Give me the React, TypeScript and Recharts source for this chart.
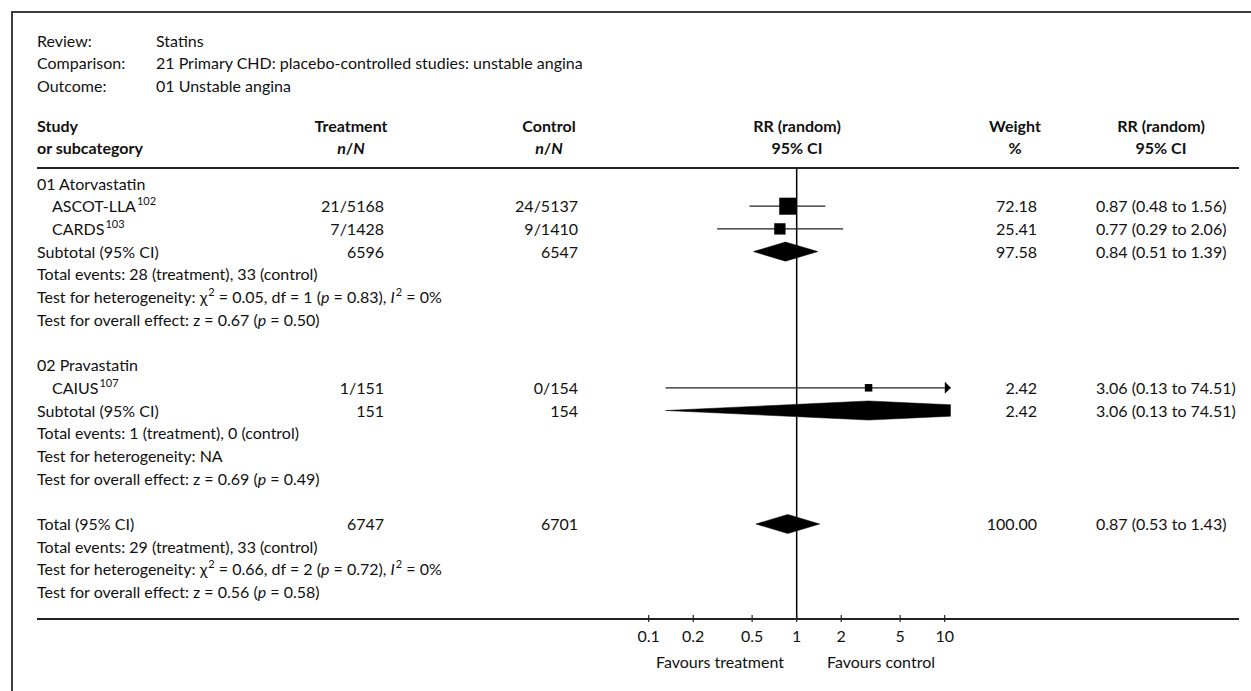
import React from 'react';
import { ScatterChart, Scatter, ErrorBar, XAxis, YAxis, ReferenceLine } from 'recharts';

// review header
const headerLabels = ['Review:', 'Comparison:', 'Outcome:'];
const headerValues = ['Statins', '21 Primary CHD: placebo-controlled studies: unstable angina', '01 Unstable angina'];

// studies
const studyNames = ['ASCOT-LLA', 'CARDS', 'CAIUS'];
const studyRefs = ['102', '103', '107'];
const studyGroup = [0, 0, 1];
const studyTreatment = ['21/5168', '7/1428', '1/151'];
const studyControl = ['24/5137', '9/1410', '0/154'];
const studyWeight = [72.18, 25.41, 2.42];
const studyRR = [0.87, 0.77, 3.06];
const studyLow = [0.48, 0.29, 0.13];
const studyHigh = [1.56, 2.06, 74.51];

// subgroups
const groupNames = ['01 Atorvastatin', '02 Pravastatin'];
const groupTreatN = [6596, 151];
const groupControlN = [6547, 154];
const groupWeight = [97.58, 2.42];
const groupRR = [0.84, 3.06];
const groupLow = [0.51, 0.13];
const groupHigh = [1.39, 74.51];
const groupEventsT = [28, 1];
const groupEventsC = [33, 0];
const groupChi2 = [0.05, null];
const groupDf = [1, null];
const groupHetP = [0.83, null];
const groupI2 = [0, null];
const groupZ = [0.67, 0.69];
const groupZP = [0.50, 0.49];

// overall
const totalTreatN = 6747;
const totalControlN = 6701;
const totalWeight = 100;
const totalRR = 0.87;
const totalLow = 0.53;
const totalHigh = 1.43;
const totalEventsT = 29;
const totalEventsC = 33;
const totalChi2 = 0.66;
const totalDf = 2;
const totalHetP = 0.72;
const totalI2 = 0;
const totalZ = 0.56;
const totalZP = 0.58;

// axis
const XMIN = 0.1;
const XMAX = 11;
const axisTicks = [0.1, 0.2, 0.5, 1, 2, 5, 10];
const axisTickLabels = ['0.1', '0.2', '0.5', '1', '2', '5', '10'];

const W = 1251;
const H = 691;
const FONT = 'Lato, "Open Sans", sans-serif';
const ROW0 = 183.5;
const ROW_H = 22.7;
const rowY = (i: number) => ROW0 + ROW_H * i;

const Sup = ({ children }: { children: React.ReactNode }) => (
  <span style={{ fontSize: 11, position: 'relative', top: -7, marginLeft: 1 }}>{children}</span>
);

const fmtCI = (r: number, lo: number, hi: number) => `${r.toFixed(2)} (${lo.toFixed(2)} to ${hi.toFixed(2)})`;

const hetLabel = (chi2: number | null, df: number | null, p: number | null, i2: number | null) =>
  chi2 === null ? (
    <>Test for heterogeneity: NA</>
  ) : (
    <>
      Test for heterogeneity: χ<Sup>2</Sup> = {chi2.toFixed(2)}, df = {df} (<i>p</i> = {p!.toFixed(2)}), <i>I</i>
      <Sup>2</Sup> = {i2}%
    </>
  );

const zLabel = (z: number, p: number) => (
  <>
    Test for overall effect: z = {z.toFixed(2)} (<i>p</i> = {p.toFixed(2)})
  </>
);

type Row = {
  label?: React.ReactNode;
  indent?: boolean;
  treat?: string;
  ctrl?: string;
  weight?: string;
  ci?: string;
};

const rows: Row[] = [];
const studyRow: number[] = [];
const pooled: { rr: number; lo: number; hi: number; row: number }[] = [];

groupNames.forEach((g, gi) => {
  rows.push({ label: g });
  studyNames.forEach((s, si) => {
    if (studyGroup[si] !== gi) return;
    studyRow[si] = rows.length;
    rows.push({
      label: (
        <>
          {s}
          <Sup>{studyRefs[si]}</Sup>
        </>
      ),
      indent: true,
      treat: studyTreatment[si],
      ctrl: studyControl[si],
      weight: studyWeight[si].toFixed(2),
      ci: fmtCI(studyRR[si], studyLow[si], studyHigh[si]),
    });
  });
  pooled.push({ rr: groupRR[gi], lo: groupLow[gi], hi: groupHigh[gi], row: rows.length });
  rows.push({
    label: 'Subtotal (95% CI)',
    treat: String(groupTreatN[gi]),
    ctrl: String(groupControlN[gi]),
    weight: groupWeight[gi].toFixed(2),
    ci: fmtCI(groupRR[gi], groupLow[gi], groupHigh[gi]),
  });
  rows.push({ label: `Total events: ${groupEventsT[gi]} (treatment), ${groupEventsC[gi]} (control)` });
  rows.push({ label: hetLabel(groupChi2[gi], groupDf[gi], groupHetP[gi], groupI2[gi]) });
  rows.push({ label: zLabel(groupZ[gi], groupZP[gi]) });
  rows.push({});
});
pooled.push({ rr: totalRR, lo: totalLow, hi: totalHigh, row: rows.length });
rows.push({
  label: 'Total (95% CI)',
  treat: String(totalTreatN),
  ctrl: String(totalControlN),
  weight: totalWeight.toFixed(2),
  ci: fmtCI(totalRR, totalLow, totalHigh),
});
rows.push({ label: `Total events: ${totalEventsT} (treatment), ${totalEventsC} (control)` });
rows.push({ label: hetLabel(totalChi2, totalDf, totalHetP, totalI2) });
rows.push({ label: zLabel(totalZ, totalZP) });

// chart data
const studyPoints = studyNames.map((_, i) => ({
  x: studyRR[i],
  y: studyRow[i],
  w: studyWeight[i],
  err: [studyRR[i] - studyLow[i], Math.min(studyHigh[i], XMAX) - studyRR[i]],
}));
const arrowPoints = studyNames
  .map((_, i) => ({ x: XMAX, y: studyRow[i], over: studyHigh[i] > XMAX }))
  .filter((p) => p.over);

const diamond = (p: { rr: number; lo: number; hi: number; row: number }) => {
  const h = 0.42;
  const hiC = Math.min(p.hi, XMAX);
  const t = p.hi > XMAX ? (Math.log(XMAX) - Math.log(p.rr)) / (Math.log(p.hi) - Math.log(p.rr)) : 1;
  const hr = h * (1 - t);
  return [
    { x: p.lo, y: p.row },
    { x: p.rr, y: p.row - h },
    { x: hiC, y: p.row - hr },
    { x: hiC, y: p.row + hr },
    { x: p.rr, y: p.row + h },
  ];
};

// chart box: plot area x 648.7..950.8, y 168..618
const CH_LEFT = 600;
const CH_TOP = 160;
const CH_W = 400;
const CH_H = 520;
const Y_TOP = (168 - ROW0) / ROW_H;
const Y_BOT = (618 - ROW0) / ROW_H;

const Tick = (props: any) => {
  const { x, y, payload } = props;
  const idx = axisTicks.indexOf(payload.value);
  return (
    <g>
      <line x1={x} x2={x} y1={y - 3} y2={y + 4} stroke="#222" strokeWidth={1.2} />
      <text x={x} y={y + 17} textAnchor="middle" dominantBaseline="central" fontSize={16} fontFamily={FONT} fill="#111">
        {idx >= 0 ? axisTickLabels[idx] : payload.value}
      </text>
    </g>
  );
};

const Square = (props: any) => {
  const { cx, cy, payload } = props;
  const s = Math.max(7.5, 3 + 1.65 * Math.sqrt(payload.w));
  return <rect x={cx - s / 2} y={cy - s / 2} width={s} height={s} fill="#000" />;
};

const Arrow = (props: any) => {
  const { cx, cy } = props;
  return <polygon points={`${cx - 6},${cy - 6} ${cx},${cy} ${cx - 6},${cy + 6}`} fill="#000" />;
};

const DiamondLine = (props: any) => (
  <polygon points={props.points.map((p: any) => `${p.x},${p.y}`).join(' ')} fill="#000" stroke="#000" strokeWidth={0.5} />
);

function Text({ x, y, align = 'left', bold, children }: { x: number; y: number; align?: string; bold?: boolean; children: React.ReactNode }) {
  const style: React.CSSProperties = {
    position: 'absolute',
    top: y - 10,
    height: 20,
    lineHeight: '20px',
    whiteSpace: 'nowrap',
    fontWeight: bold ? 700 : 400,
  };
  if (align === 'left') style.left = x;
  else if (align === 'right') style.right = W - x;
  else {
    style.left = x - 150;
    style.width = 300;
    style.textAlign = 'center';
  }
  return <div style={style}>{children}</div>;
}

const hline = (y: number): React.CSSProperties => ({
  position: 'absolute',
  left: 37,
  width: 1239 - 37,
  top: y - 1,
  height: 2,
  background: '#222',
});

export default function App() {
  return (
    <div
      style={{
        position: 'absolute',
        left: 0,
        top: 0,
        width: W,
        height: H,
        overflow: 'hidden',
        background: '#fff',
        fontFamily: FONT,
        fontSize: 16,
        color: '#111',
      }}
    >
      <div style={{ position: 'absolute', left: 11, top: 11, width: 1400, height: 900, border: '2px solid #3c3c3c' }} />

      {headerLabels.map((l, i) => (
        <React.Fragment key={l}>
          <Text x={37} y={40.5 + 22.5 * i}>{l}</Text>
          <Text x={156} y={40.5 + 22.5 * i}>{headerValues[i]}</Text>
        </React.Fragment>
      ))}

      <Text x={37} y={126} bold>Study</Text>
      <Text x={37} y={147.5} bold>or subcategory</Text>
      <Text x={351} y={126} align="center" bold>Treatment</Text>
      <Text x={351} y={147.5} align="center" bold><i>n</i>/<i>N</i></Text>
      <Text x={549} y={126} align="center" bold>Control</Text>
      <Text x={549} y={147.5} align="center" bold><i>n</i>/<i>N</i></Text>
      <Text x={797} y={126} align="center" bold>RR (random)</Text>
      <Text x={797} y={147.5} align="center" bold>95% CI</Text>
      <Text x={1015} y={126} align="center" bold>Weight</Text>
      <Text x={1015} y={147.5} align="center" bold>%</Text>
      <Text x={1161} y={126} align="center" bold>RR (random)</Text>
      <Text x={1161} y={147.5} align="center" bold>95% CI</Text>

      <div style={hline(168)} />
      <div style={hline(618.5)} />

      {rows.map((r, i) => (
        <React.Fragment key={i}>
          {r.label && <Text x={r.indent ? 52 : 37} y={rowY(i)}>{r.label}</Text>}
          {r.treat && <Text x={384} y={rowY(i)} align="right">{r.treat}</Text>}
          {r.ctrl && <Text x={578} y={rowY(i)} align="right">{r.ctrl}</Text>}
          {r.weight && <Text x={1037} y={rowY(i)} align="right">{r.weight}</Text>}
          {r.ci && <Text x={1096} y={rowY(i)}>{r.ci}</Text>}
        </React.Fragment>
      ))}

      <div style={{ position: 'absolute', left: CH_LEFT, top: CH_TOP }}>
        <ScatterChart width={CH_W} height={CH_H} margin={{ top: 8, right: 49.2, bottom: 0, left: 48.7 }}>
          <XAxis
            dataKey="x"
            type="number"
            scale="log"
            domain={[XMIN, XMAX]}
            allowDataOverflow
            ticks={axisTicks}
            interval={0}
            height={62}
            axisLine={false}
            tickLine={false}
            tickSize={0}
            tickMargin={0}
            tick={<Tick />}
          />
          <YAxis dataKey="y" type="number" domain={[Y_TOP, Y_BOT]} reversed allowDataOverflow hide />
          <ReferenceLine x={1} stroke="#000" strokeWidth={1.5} />
          {pooled.map((p, i) => (
            <Scatter
              key={`d${i}`}
              data={diamond(p)}
              line={DiamondLine}
              lineType="joint"
              shape={() => <g />}
              isAnimationActive={false}
            />
          ))}
          <Scatter data={studyPoints} shape={Square} isAnimationActive={false}>
            <ErrorBar dataKey="err" direction="x" width={0} stroke="#222" strokeWidth={1.2} isAnimationActive={false} />
          </Scatter>
          <Scatter data={arrowPoints} shape={Arrow} isAnimationActive={false} />
        </ScatterChart>
      </div>

      <Text x={720} y={661.5} align="center">Favours treatment</Text>
      <Text x={881} y={661.5} align="center">Favours control</Text>
    </div>
  );
}
